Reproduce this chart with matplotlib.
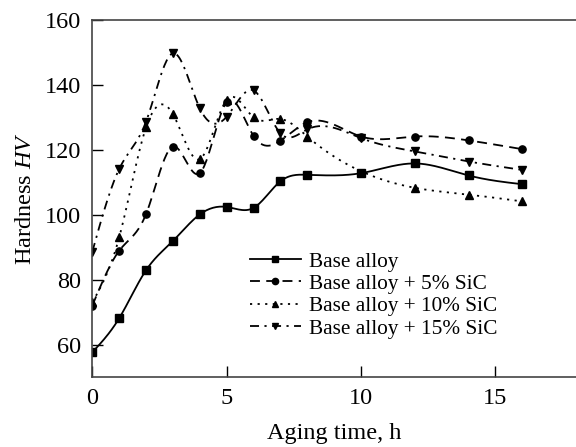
import numpy as np
import matplotlib
matplotlib.use("Agg")
import matplotlib.pyplot as plt
from matplotlib.lines import Line2D

# ---- data ----
t_base = [0, 1, 2, 3, 4, 5, 6, 7, 8, 10, 12, 14, 16]
hv_base = [57.6, 68.1, 82.9, 91.9, 100.1, 102.4, 102.1, 110.3, 112.3, 112.8, 115.8, 112.1, 109.4]

t_5 = [0, 1, 2, 3, 4, 5, 6, 7, 8, 10, 12, 14, 16]
hv_5 = [72.0, 88.9, 100.2, 121.0, 112.8, 134.7, 124.3, 122.8, 128.5, 124.1, 124.1, 122.9, 120.2]

t_10 = [0, 1, 2, 3, 4, 5, 6, 7, 8, 12, 14, 16]
hv_10 = [73.0, 93.0, 126.9, 131.0, 117.1, 135.4, 130.0, 129.5, 124.1, 108.3, 106.2, 104.1]

t_15 = [0, 1, 2, 3, 4, 5, 6, 7, 8, 10, 12, 14, 16]
hv_15 = [88.6, 114.1, 128.7, 149.75, 132.8, 130.2, 138.3, 125.1, 126.3, 123.6, 119.5, 116.4, 113.8]

labels = ["Base alloy", "Base alloy + 5% SiC", "Base alloy + 10% SiC", "Base alloy + 15% SiC"]


def natural_spline(x, y, n=400):
    x = np.asarray(x, float)
    y = np.asarray(y, float)
    k = len(x)
    h = np.diff(x)
    A = np.zeros((k, k))
    b = np.zeros(k)
    A[0, 0] = 1
    A[-1, -1] = 1
    for i in range(1, k - 1):
        A[i, i - 1] = h[i - 1]
        A[i, i] = 2 * (h[i - 1] + h[i])
        A[i, i + 1] = h[i]
        b[i] = 3 * ((y[i + 1] - y[i]) / h[i] - (y[i] - y[i - 1]) / h[i - 1])
    c = np.linalg.solve(A, b)
    xs = np.linspace(x[0], x[-1], n)
    idx = np.clip(np.searchsorted(x, xs) - 1, 0, k - 2)
    dx = xs - x[idx]
    bb = (y[idx + 1] - y[idx]) / h[idx] - h[idx] * (2 * c[idx] + c[idx + 1]) / 3
    dd = (c[idx + 1] - c[idx]) / (3 * h[idx])
    ys = y[idx] + bb * dx + c[idx] * dx ** 2 + dd * dx ** 3
    return xs, ys


plt.rcParams["font.family"] = ["Liberation Serif", "DejaVu Serif"]
plt.rcParams["mathtext.fontset"] = "custom"
plt.rcParams["mathtext.it"] = "Liberation Serif:italic"
plt.rcParams["mathtext.rm"] = "Liberation Serif"

fig = plt.figure(figsize=(5.76, 4.47), dpi=100)
ax = fig.add_axes([92.3 / 576, 1 - 377 / 447, 1 - 92.3 / 576, (377 - 20) / 447])

series = [
    (t_base, hv_base, "-", "s", 5.2),
    (t_5, hv_5, (0, (5.5, 3.5)), "o", 5.2),
    (t_10, hv_10, (0, (1.2, 3.0)), "^", 5.6),
    (t_15, hv_15, (0, (5, 3, 1.2, 3)), "v", 5.6),
]

handles = []
for (t, hv, ls, mk, ms), lab in zip(series, labels):
    xs, ys = natural_spline(t, hv)
    ax.plot(xs, ys, color="black", linestyle=ls, linewidth=1.3)
    ax.plot(t, hv, linestyle="none", marker=mk, markersize=ms, color="black")
    handles.append(Line2D([0], [0], color="black", linestyle=ls, linewidth=1.3,
                          marker=mk, markersize=ms - 0.7))

ax.set_xlim(0, 18)
ax.set_ylim(50, 160)
ax.set_xticks([0, 5, 10, 15])
ax.set_yticks([60, 80, 100, 120, 140, 160])
ax.tick_params(direction="in", length=8, width=1, labelsize=17.5, pad=8)
ax.spines["right"].set_visible(False)
for s in ["left", "bottom", "top"]:
    ax.spines[s].set_linewidth(1.2)
    ax.spines[s].set_color("#444444")

ax.set_xlabel("Aging time, h", fontsize=17.5, labelpad=10)
ax.set_ylabel("Hardness $\\mathit{HV}$", fontsize=17.5, labelpad=6)

leg = ax.legend(handles, labels, loc="upper left", bbox_to_anchor=(0.308, 0.375),
                frameon=False, fontsize=15.3, handlelength=2.4, handletextpad=0.4,
                labelspacing=0.12, borderaxespad=0)

fig.savefig("out.png", dpi=100)
